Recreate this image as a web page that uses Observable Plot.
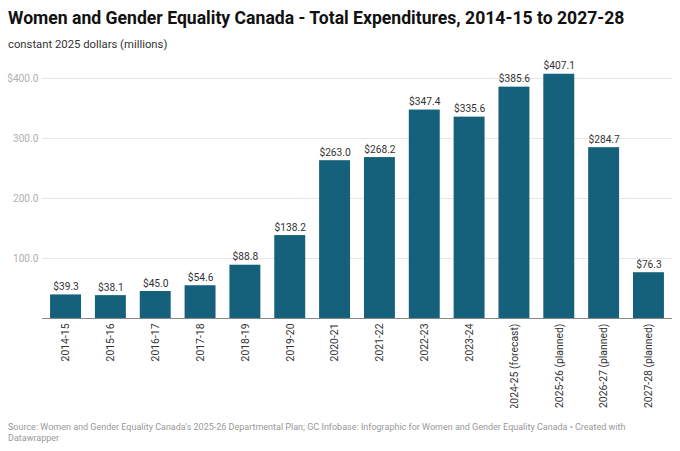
<!DOCTYPE html>
<html>
<head>
<meta charset="utf-8">
<script src="https://cdn.jsdelivr.net/npm/d3@7"></script>
<script src="https://cdn.jsdelivr.net/npm/@observablehq/plot@0.6"></script>
<style>
  html, body { margin: 0; padding: 0; background: #fff; overflow: hidden; }
  body { width: 680px; height: 451px; font-family: Roboto, sans-serif; position: relative; }
  #title { position: absolute; left: 8px; top: 8px; font-size: 17.6px; line-height: 21px; font-weight: 700; color: #111; white-space: nowrap; }
  #subtitle { position: absolute; left: 8px; top: 38px; font-size: 11.3px; line-height: 13px; color: #333; white-space: nowrap; }
  #chart { position: absolute; left: 0; top: 58px; width: 680px; }
  #chart svg { max-width: none !important; }
  #footer { position: absolute; left: 8px; top: 422px; font-size: 9px; line-height: 11px; color: #999; white-space: nowrap; }
</style>
</head>
<body>
<div id="title">Women and Gender Equality Canada - Total Expenditures, 2014-15 to 2027-28</div>
<div id="subtitle">constant 2025 dollars (millions)</div>
<div id="chart"></div>
<div id="footer">Source: Women and Gender Equality Canada's 2025-26 Departmental Plan; GC Infobase: Infographic for Women and Gender Equality Canada • Created with<br>Datawrapper</div>
<script>
const years = ["2014-15","2015-16","2016-17","2017-18","2018-19","2019-20","2020-21","2021-22","2022-23","2023-24","2024-25 (forecast)","2025-26 (planned)","2026-27 (planned)","2027-28 (planned)"];
const values = [39.3, 38.1, 45.0, 54.6, 88.8, 138.2, 263.0, 268.2, 347.4, 335.6, 385.6, 407.1, 284.7, 76.3];
const yTicks = [100, 200, 300, 400];

const data = years.map((y, i) => ({year: y, value: values[i]}));

const chart = Plot.plot({
  width: 680,
  height: 350,
  marginLeft: 42,
  marginRight: 8,
  marginTop: 20,
  marginBottom: 90,
  style: {fontFamily: "Roboto, sans-serif", fontSize: "10px", background: "transparent"},
  x: {domain: years, paddingInner: 0.31, paddingOuter: 0.18, round: false, label: null},
  y: {domain: [0, 400], label: null},
  marks: [
    Plot.gridY(yTicks, {stroke: "#e6e6e6", strokeOpacity: 1}),
    Plot.axisY(yTicks, {tickSize: 0, tickPadding: 4, fill: "#b0b0b0", fontSize: 10.2,
      tickFormat: d => d === 400 ? "$" + d.toFixed(1) : d.toFixed(1), label: null}),
    Plot.barY(data, {x: "year", y: "value", fill: "#15607a"}),
    Plot.ruleY([0], {stroke: "#888", strokeWidth: 1}),
    Plot.text(data, {x: "year", y: "value", text: d => "$" + d.value.toFixed(1), lineAnchor: "bottom", dy: -5, fill: "#333", fontSize: 10.2}),
    Plot.axisX({tickSize: 0, tickPadding: 5, tickRotate: -90, fill: "#333", fontSize: 10.4, label: null})
  ]
});
document.getElementById("chart").appendChild(chart);
</script>
</body>
</html>
